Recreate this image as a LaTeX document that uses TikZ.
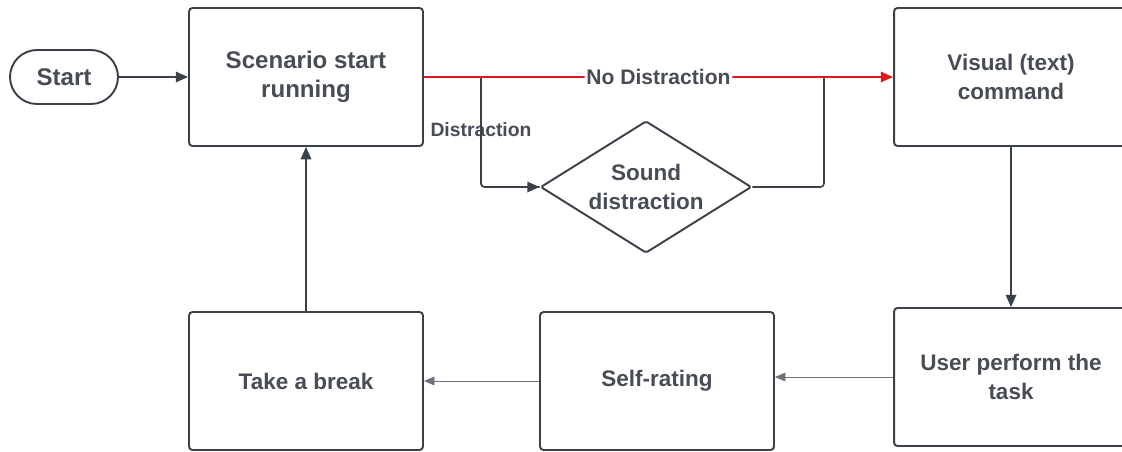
\documentclass[tikz,border=0pt]{standalone}
\usepackage{fontspec}
\setmainfont{Liberation Sans}
\usetikzlibrary{arrows.meta,shapes.geometric}
\definecolor{inkgray}{HTML}{3B4149}
\definecolor{textgray}{HTML}{474C55}
\definecolor{thingray}{HTML}{6E737B}
\definecolor{flowred}{HTML}{E3161C}
\tikzset{
  box/.style={draw=inkgray,line width=1.1pt,rounded corners=2pt,fill=white,
    minimum width=4.68cm,minimum height=2.76cm,align=center,
    text=textgray,font=\fontsize{12.8}{16}\selectfont\bfseries},
  bigtext/.style={font=\fontsize{13.7}{16.5}\selectfont\bfseries},
  pill/.style={box,bigtext,minimum width=2.16cm,minimum height=1.08cm,rounded corners=0.54cm},
  decision/.style={box,diamond,rounded corners=1pt,inner sep=0pt,aspect=1.6,
    minimum width=4.22cm,minimum height=2.64cm},
  flow/.style={draw=inkgray,line width=0.9pt,rounded corners=2pt,
    -{Triangle[length=7pt,width=6pt]}},
  thinflow/.style={draw=thingray,line width=0.5pt,-{Triangle[length=6pt,width=5pt]}},
  lbl/.style={fill=white,text=textgray,inner sep=1pt,font=\fontsize{12}{14}\selectfont\bfseries}
}
\begin{document}
\begin{tikzpicture}[x=0.02cm,y=-0.02cm]
\useasboundingbox (0,0) rectangle (1122,451);

% nodes
\node[pill] (start) at (64,77) {Start};
\node[box,bigtext] (scen) at (306,77) {Scenario start\\running};
\node[box] (visual) at (1011,77) {Visual (text)\\command};
\node[decision] (sound) at (646,187) {Sound\\distraction};
\node[box] (user) at (1011,377) {User perform the\\task};
\node[box] (rating) at (657,381) {Self-rating};
\node[box] (rest) at (306,381) {Take a break};
\coordinate (split) at (481,77);
\coordinate (merge) at (824,77);

% connectors
\draw[flow,-] (split) |- node[pos=0.24,lbl,font=\fontsize{11}{13}\selectfont\bfseries] {Distraction} (sound.west);
\draw[draw=inkgray,line width=0.9pt,rounded corners=2pt] (sound.east) -| (merge);
\draw[flow] (split) |- (sound.west);
\draw[flow] (start) -- (scen);
\draw[flow,draw=flowred,fill=flowred] (scen.east) -- node[lbl] {No Distraction} (visual.west);
\draw[flow] (visual) -- (user);
\draw[thinflow] (user.west) -- (rating.east |- user.west);
\draw[thinflow] (rating) -- (rest);
\draw[flow] (rest) -- (scen);
\end{tikzpicture}
\end{document}
